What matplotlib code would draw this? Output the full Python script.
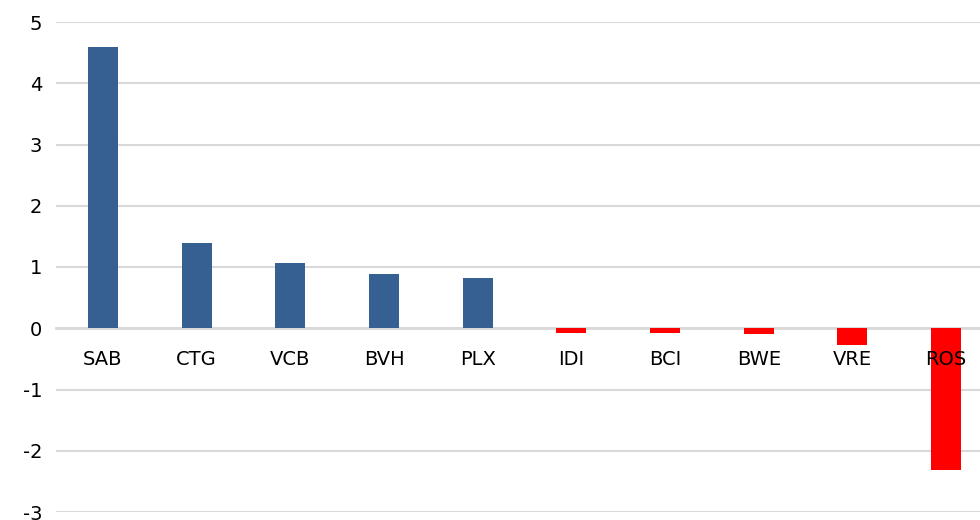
import matplotlib.pyplot as plt
import numpy as np

# Tickers and values
tickers = ["SAB", "CTG", "VCB", "BVH", "PLX", "IDI", "BCI", "BWE", "VRE", "ROS"]
values = [4.59, 1.39, 1.06, 0.88, 0.82, -0.07, -0.07, -0.10, -0.28, -2.31]
y_ticks = [-3, -2, -1, 0, 1, 2, 3, 4, 5]

blue = "#376092"
red = "#ff0000"
colors = [blue if v >= 0 else red for v in values]

fig = plt.figure(figsize=(9.8, 5.2), dpi=100)
ax = fig.add_axes([56 / 980, 8 / 520, 937 / 980, 490 / 520])

x = np.arange(len(tickers))
ax.bar(x, values, width=0.32, color=colors, zorder=3)

ax.set_xlim(-0.5, len(tickers) - 0.5)
ax.set_ylim(-3, 5)
ax.grid(axis="y", color="#d9d9d9", linewidth=1.5, zorder=0)

# category labels sit just under the zero line
ax.spines["bottom"].set_position(("data", 0))
ax.spines["bottom"].set_color("#d9d9d9")
ax.spines["bottom"].set_linewidth(2)
ax.spines["bottom"].set_zorder(2)
for s in ["top", "right", "left"]:
    ax.spines[s].set_visible(False)

ax.set_xticks(x)
ax.set_xticklabels(tickers)
ax.set_yticks(y_ticks)
ax.set_yticklabels([str(t) for t in y_ticks])
ax.tick_params(axis="x", length=0, pad=16, labelsize=14)
ax.tick_params(axis="y", length=0, pad=10, labelsize=14)
ax.xaxis.set_zorder(5)  # ROS label drawn over its bar

fig.savefig("out.png", dpi=100)
